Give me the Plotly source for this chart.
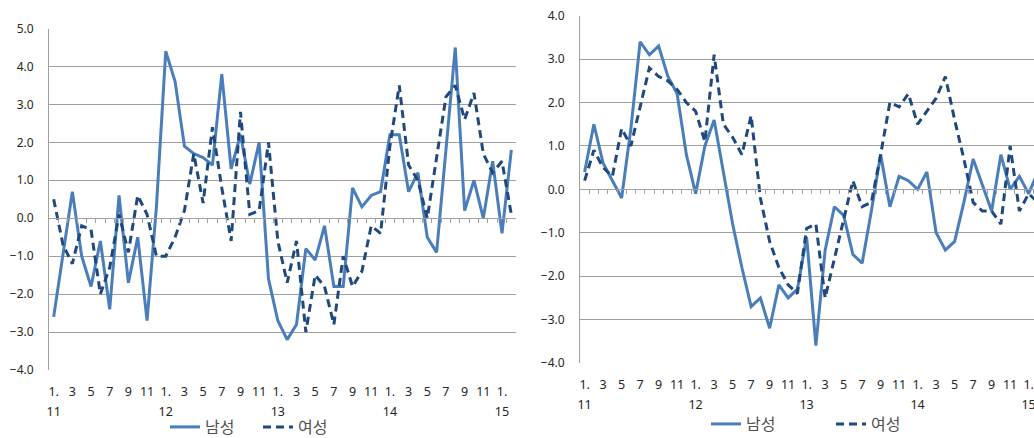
import plotly.graph_objects as go

# Monthly periods, Jan 2011 .. Feb 2015
periods = [f"{y}.{m:02d}" for y in range(2011, 2016) for m in range(1, 13)][:50]

# Left panel series
left_male = [-2.6, -1.0, 0.7, -1.0, -1.8, -0.6, -2.4, 0.6, -1.7, -0.5,
             -2.7, 0.3, 4.4, 3.6, 1.9, 1.7, 1.6, 1.4, 3.8, 1.3,
             2.2, 0.9, 2.0, -1.6, -2.7, -3.2, -2.8, -0.8, -1.1, -0.2,
             -1.8, -1.8, 0.8, 0.3, 0.6, 0.7, 2.2, 2.2, 0.7, 1.2,
             -0.5, -0.9, 1.9, 4.5, 0.2, 1.0, 0.0, 1.5, -0.4, 1.8]
left_female = [0.5, -0.7, -1.2, -0.2, -0.3, -2.0, -1.3, 0.1, -0.9, 0.6,
               0.1, -1.0, -1.0, -0.5, 0.2, 1.7, 0.4, 2.4, 0.8, -0.6,
               2.8, 0.1, 0.2, 2.0, -0.6, -1.7, -0.6, -3.0, -1.5, -1.8,
               -2.8, -1.0, -1.8, -1.4, -0.2, -0.4, 1.9, 3.5, 1.4, 1.0,
               0.0, 1.6, 3.2, 3.5, 2.6, 3.3, 1.7, 1.2, 1.5, 0.1]

# Right panel series
right_male = [0.4, 1.5, 0.6, 0.2, -0.2, 1.4, 3.4, 3.1, 3.3, 2.6,
              2.2, 0.8, -0.1, 1.0, 1.6, 0.4, -0.8, -1.8, -2.7, -2.5,
              -3.2, -2.2, -2.5, -2.3, -1.1, -3.6, -1.4, -0.4, -0.6, -1.5,
              -1.7, -0.5, 0.8, -0.4, 0.3, 0.2, 0.0, 0.4, -1.0, -1.4,
              -1.2, -0.3, 0.7, 0.1, -0.5, 0.8, 0.0, 0.3, -0.1, 0.4]
right_female = [0.2, 0.9, 0.5, 0.3, 1.4, 1.0, 1.9, 2.8, 2.6, 2.5,
                2.3, 2.0, 1.8, 1.1, 3.1, 1.5, 1.2, 0.8, 1.7, -0.2,
                -1.2, -1.8, -2.2, -2.4, -0.9, -0.8, -2.5, -1.6, -0.7, 0.2,
                -0.4, -0.3, 0.8, 2.0, 1.9, 2.2, 1.5, 1.8, 2.1, 2.6,
                1.6, 0.7, -0.3, -0.5, -0.5, -0.8, 1.0, -0.5, -0.1, -0.3]

month_labels = ["1.", "3", "5", "7", "9", "11"]
year_labels = ["11", "12", "13", "14", "15"]
series_names = ["남성", "여성"]

W, H = 1034, 438
x = list(range(len(periods)))
month_pos = [i for i in x if i % 2 == 0]
month_text = [month_labels[(i % 12) // 2] for i in month_pos]
year_pos = [i for i in x if i % 12 == 0]
year_text = year_labels[:len(year_pos)]
edges = [i + 0.5 for i in x[:-1]]

MALE_C = "#4A7EBB"
FEMALE_C = "#1F497D"
GRID_C = "#A0A0A0"
TXT_C = "#262626"
FONT = "Noto Sans, Noto Sans CJK KR, sans-serif"

# panel geometry (paper fractions)
L_X = [49 / W, 516 / W]
L_Y = [1 - 370 / H, 1 - 28.5 / H]
L_RANGE_Y = [-4, 5]
L_RANGE_X = [-0.5, 49.5]
R_X = [580 / W, 1.0]
R_Y = [1 - 363 / H, 1 - 15.7 / H]
R_RANGE_Y = [-4, 4]
R_RANGE_X = [-0.5, -0.5 + 454 / 9.25]


def zero_pos(dom, rng):
    return dom[0] + (0 - rng[0]) / (rng[1] - rng[0]) * (dom[1] - dom[0])


fig = go.Figure()

line_w = 3
panels = [
    ("x", "y", "legend", left_male, left_female),
    ("x2", "y2", "legend2", right_male, right_female),
]
for xa, ya, lg, male, female in panels:
    fig.add_trace(go.Scatter(x=x, y=male, mode="lines", name=series_names[0],
                             line=dict(color=MALE_C, width=line_w),
                             xaxis=xa, yaxis=ya, legend=lg))
    fig.add_trace(go.Scatter(x=x, y=female, mode="lines", name=series_names[1],
                             line=dict(color=FEMALE_C, width=line_w, dash="8px,5px"),
                             xaxis=xa, yaxis=ya, legend=lg))

# helper traces so the overlay axes get drawn
for xa, ya in [("x3", "y"), ("x5", "y"), ("x4", "y2"), ("x6", "y2")]:
    fig.add_trace(go.Scatter(x=[None], y=[None], xaxis=xa, yaxis=ya,
                             showlegend=False, hoverinfo="skip"))

tick_font = dict(family=FONT, size=12.5, color=TXT_C)

base_x = dict(showgrid=False, zeroline=False, showline=False, ticks="",
              tickmode="array", tickvals=month_pos, ticktext=month_text,
              tickfont=tick_font, ticklabelstandoff=12, fixedrange=True,
              ticklabeloverflow="allow")
year_x = dict(showgrid=False, zeroline=False, showline=False, ticks="",
              tickmode="array", tickvals=year_pos, ticktext=year_text,
              tickfont=tick_font, ticklabelstandoff=32, side="bottom",
              ticklabeloverflow="allow")
zero_x = dict(showgrid=False, zeroline=False, showline=True, linecolor=GRID_C,
              linewidth=1, ticks="outside", ticklen=4, tickwidth=1,
              tickcolor=GRID_C, tickmode="array", tickvals=edges,
              showticklabels=False, side="bottom", anchor="free")
base_y = dict(showgrid=True, gridcolor=GRID_C, gridwidth=1, zeroline=False,
              showline=True, linecolor=GRID_C, linewidth=1, ticks="",
              dtick=1, tickformat=".1f", tickfont=dict(family=FONT, size=12, color=TXT_C),
              ticklabelstandoff=12, fixedrange=True)

legend_font = dict(family="Noto Sans CJK KR", size=16, color="#505050")

fig.update_layout(
    width=W, height=H,
    margin=dict(l=0, r=0, t=0, b=0, autoexpand=False),
    paper_bgcolor="white", plot_bgcolor="white",
    xaxis=dict(base_x, domain=L_X, range=L_RANGE_X, anchor="y"),
    yaxis=dict(base_y, domain=L_Y, range=L_RANGE_Y, anchor="x"),
    xaxis2=dict(base_x, domain=R_X, range=R_RANGE_X, anchor="y2"),
    yaxis2=dict(base_y, domain=R_Y, range=R_RANGE_Y, anchor="x2"),
    xaxis3=dict(zero_x, overlaying="x", range=L_RANGE_X,
                position=zero_pos(L_Y, L_RANGE_Y)),
    xaxis4=dict(zero_x, overlaying="x2", range=R_RANGE_X,
                position=zero_pos(R_Y, R_RANGE_Y)),
    xaxis5=dict(year_x, overlaying="x", range=L_RANGE_X, anchor="y"),
    xaxis6=dict(year_x, overlaying="x2", range=R_RANGE_X, anchor="y2"),
    legend=dict(orientation="h", x=165 / W, y=11 / H, xanchor="left", yanchor="middle",
                entrywidth=48, entrywidthmode="pixels", font=legend_font,
                bgcolor="rgba(0,0,0,0)"),
    legend2=dict(orientation="h", x=706 / W, y=14 / H, xanchor="left", yanchor="middle",
                 entrywidth=80, entrywidthmode="pixels", font=legend_font,
                 bgcolor="rgba(0,0,0,0)"),
    showlegend=True,
)

fig.write_html("out.html")
